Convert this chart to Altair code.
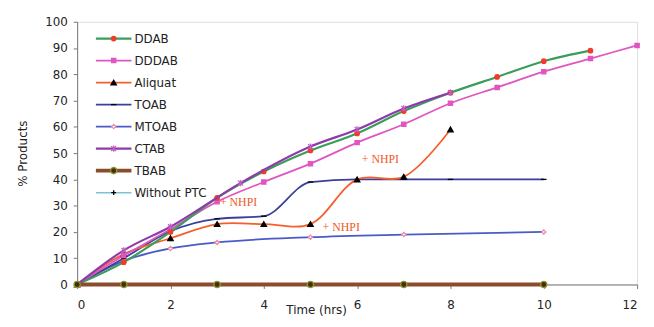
import altair as alt
import pandas as pd

# ---- data ----
t_ddab = [0, 1, 2, 3, 4, 5, 6, 7, 8, 9, 10, 11]
v_ddab = [0, 8.5, 20, 33, 43, 51, 57.5, 66, 73, 79, 85, 89]

t_dddab = [0, 1, 2, 3, 4, 5, 6, 7, 8, 9, 10, 11, 12]
v_dddab = [0, 11, 21, 31.5, 39, 46, 54, 61, 69, 75, 81, 86, 91]

t_aliquat = [0, 1, 2, 3, 4, 5, 6, 7, 8]
v_aliquat = [0, 11.6, 17.6, 23, 23, 23, 40, 41, 59]

t_toab = [0, 1, 2, 3, 4, 5, 6, 7, 8, 10]
v_toab = [0, 10, 20.3, 25, 26, 39, 40, 40, 40, 40]

t_mtoab = [0, 1, 2, 3, 5, 7, 10]
v_mtoab = [0, 9, 13.7, 16, 18, 19, 20]

t_ctab = [0, 1, 2, 3.5, 5, 6, 7, 8]
v_ctab = [0, 13, 22, 38.6, 52.5, 59, 67, 73]

t_tbab = [0, 1, 3, 5, 7, 10]
v_tbab = [0, 0, 0, 0, 0, 0]

t_noptc = [0, 1, 3, 5, 7, 10]
v_noptc = [0, 0, 0, 0, 0, 0]

names = ["DDAB", "DDDAB", "Aliquat", "TOAB", "MTOAB", "CTAB", "TBAB", "Without PTC"]

note_x = [3.06, 6.1, 5.26]
note_y = [31.2, 47.6, 21.8]
note_text = ["+ NHPI", "+ NHPI", "+ NHPI"]

# ---- styles ----
ASTER = "M-1,-1L1,1M-1,1L1,-1M0,-1.3L0,1.3"
PLUS = "M-1,0L1,0M0,-1L0,1"
style = {
    "DDAB":        dict(line="#3A9D5A", w=2.2, shape="circle", fill="#F03C28", stroke="#F03C28", size=20),
    "DDDAB":       dict(line="#E055C0", w=1.8, shape="square", fill="#E055C0", stroke="#E055C0", size=18),
    "Aliquat":     dict(line="#F4602D", w=1.8, shape="triangle-up", fill="#000000", stroke="#000000", size=30),
    "TOAB":        dict(line="#3B3F9C", w=1.8, shape="stroke", fill="#000000", stroke="#000000", size=30),
    "MTOAB":       dict(line="#4A5BC8", w=1.8, shape="diamond", fill="#FFFFFF", stroke="#E98BAA", size=18),
    "CTAB":        dict(line="#8E3BAA", w=2.2, shape=ASTER, fill="transparent", stroke="#C060C0", size=24),
    "TBAB":        dict(line="#8B4C2E", w=4.0, shape="circle", fill="#4A2A10", stroke="#8A9A30", size=40),
    "Without PTC": dict(line="#7EC3D3", w=1.5, shape=PLUS, fill="transparent", stroke="#000000", size=24),
}

series = {
    "DDAB": (t_ddab, v_ddab),
    "DDDAB": (t_dddab, v_dddab),
    "Aliquat": (t_aliquat, v_aliquat),
    "TOAB": (t_toab, v_toab),
    "MTOAB": (t_mtoab, v_mtoab),
    "CTAB": (t_ctab, v_ctab),
    "TBAB": (t_tbab, v_tbab),
    "Without PTC": (t_noptc, v_noptc),
}

FONT = "DejaVu Sans"
xscale = alt.Scale(domain=[0, 12], nice=False)
yscale = alt.Scale(domain=[0, 100], nice=False)

x_axis = alt.Axis(values=[0, 2, 4, 6, 8, 10, 12], grid=False, tickSize=4,
                  labelPadding=11, labelFont=FONT, labelFontSize=12, labelColor="#222",
                  domainColor="#777", tickColor="#777",
                  title="Time (hrs)", titleFont=FONT, titleFontSize=12, titleFontWeight="normal",
                  titleColor="#222", titleX=242, titleY=25, titleBaseline="middle")
y_axis = alt.Axis(values=list(range(0, 101, 10)), grid=False, tickSize=4,
                  labelPadding=6, labelFont=FONT, labelFontSize=12, labelColor="#222",
                  domainColor="#777", tickColor="#777",
                  title="% Products", titleFont=FONT, titleFontSize=12, titleFontWeight="normal",
                  titleColor="#222", titleX=-55, titleY=133, titleAngle=-90,
                  titleAlign="center", titleBaseline="middle")

XE = alt.X("t:Q", scale=xscale, axis=x_axis)
YE = alt.Y("v:Q", scale=yscale, axis=y_axis)

layers = []
order = ["Without PTC", "MTOAB", "TOAB", "Aliquat", "DDDAB", "DDAB", "CTAB", "TBAB"]
for nm in order:
    t, v = series[nm]
    df = pd.DataFrame({"t": t, "v": v})
    s = style[nm]
    line = alt.Chart(df).mark_line(color=s["line"], strokeWidth=s["w"],
                                   interpolate="monotone" if nm != "Aliquat" else "catmull-rom"
                                   ).encode(x=XE, y=YE)
    pts = alt.Chart(df).mark_point(shape=s["shape"], fill=s["fill"], stroke=s["stroke"],
                                   filled=False, size=s["size"], opacity=1, strokeWidth=1.3
                                   ).encode(x=XE, y=YE)
    layers += [line, pts]

notes = pd.DataFrame({"t": note_x, "v": note_y, "txt": note_text})
note_layer = alt.Chart(notes).mark_text(font="Liberation Serif", fontSize=12, color="#F05A28",
                                        align="left", baseline="middle").encode(
    x=XE, y=YE, text="txt:N")
layers.append(note_layer)

main = alt.layer(*layers)

# ---- custom legend (line + marker + label) ----
leg = pd.DataFrame({
    "row": list(range(len(names))),
    "name": names,
    "line": [style[n]["line"] for n in names],
    "w": [style[n]["w"] for n in names],
    "shape": [style[n]["shape"] for n in names],
    "fill": [style[n]["fill"] for n in names],
    "stroke": [style[n]["stroke"] for n in names],
    "size": [style[n]["size"] for n in names],
})
lscale = alt.Scale(domain=[0, 7], range=[17, 173])
LY = alt.Y("row:Q", scale=lscale, axis=None)
leg_rule = alt.Chart(leg).mark_rule().encode(
    x=alt.value(19), x2=alt.value(55), y=LY,
    color=alt.Color("line:N", scale=None),
    strokeWidth=alt.StrokeWidth("w:Q", scale=None))
leg_pts = alt.Chart(leg).mark_point(filled=False, opacity=1, strokeWidth=1.3).encode(
    x=alt.value(37), y=LY,
    shape=alt.Shape("shape:N", scale=None),
    fill=alt.Fill("fill:N", scale=None),
    stroke=alt.Stroke("stroke:N", scale=None),
    size=alt.Size("size:Q", scale=None))
leg_txt = alt.Chart(leg).mark_text(font=FONT, fontSize=12, color="#222", align="left",
                                   baseline="middle").encode(
    x=alt.value(58), y=LY, text="name:N")
legend = alt.layer(leg_rule, leg_pts, leg_txt)

chart = alt.layer(main, legend).resolve_scale(y="independent").properties(
    width=567, height=266,
    autosize=alt.AutoSizeParams(type="none"),
    padding={"left": 70, "top": 12, "right": 9, "bottom": 33},
).configure_view(strokeWidth=0, stroke=None).configure(background="white")

chart.save("out.html", embed_options={"renderer": "svg", "actions": False})
